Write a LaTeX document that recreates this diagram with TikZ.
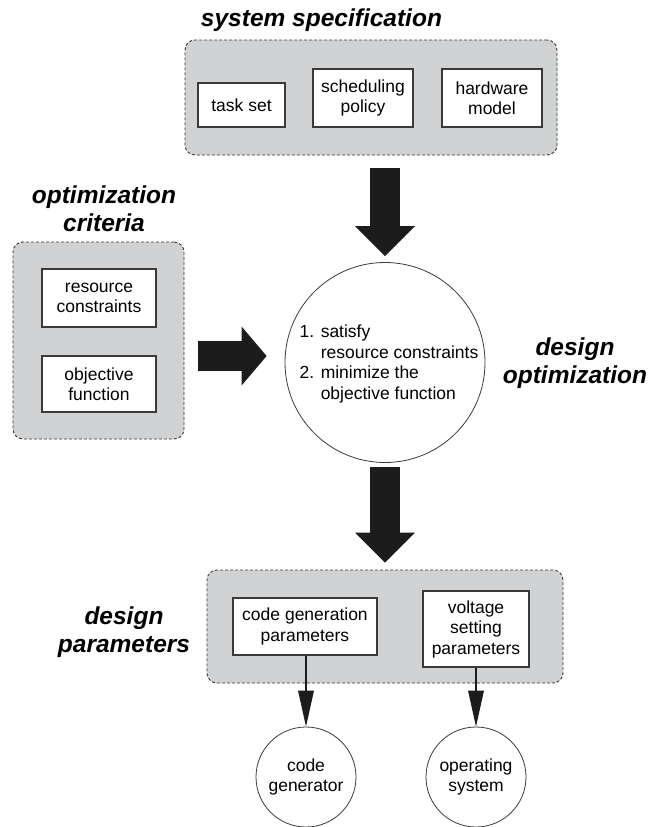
\documentclass[tikz,border=0pt]{standalone}
\usepackage{fontspec}
\setmainfont{Liberation Sans}
\usetikzlibrary{arrows.meta,calc}
\definecolor{panel}{HTML}{D1D2D4}
\definecolor{edge}{HTML}{3A3A3A}
\definecolor{ink}{HTML}{1C1C1C}
\begin{document}
\begin{tikzpicture}[x=1pt,y=-1pt,
  container/.style={draw=edge, dash pattern=on 3pt off 2pt, fill=panel, rounded corners=10pt, line width=0.9pt, inner sep=0pt},
  item/.style={draw=edge, fill=white, line width=1.1pt, align=center, inner sep=0pt, font=\fontsize{17.5}{20.5}\selectfont},
  title/.style={font=\fontsize{24.5}{28}\selectfont\bfseries\itshape, align=center, inner sep=0pt},
  roundnode/.style={circle, draw=edge, line width=0.8pt, fill=white, inner sep=0pt, align=center, font=\fontsize{17.5}{20.5}\selectfont},
  blockarr/.style={line width=30pt, draw=ink, -{Triangle[length=30pt,width=60pt,line width=0pt]}},
  sidearr/.style={line width=30pt, draw=ink, -{Triangle[length=25pt,width=59pt,line width=0pt]}},
  thinarr/.style={line width=2.5pt, draw=ink, -{Triangle[length=36pt,width=16pt,line width=0pt]}}
]
\useasboundingbox (0,0) rectangle (648,827);

% system specification
\node[container, minimum width=372pt, minimum height=115pt] (sys) at (371,97.5) {};
\node[title] (systitle) at (321.5,20) {system specification};
\node[item, minimum width=87pt, minimum height=44pt] (task) at (241.5,105) {task set};
\node[item, minimum width=100pt, minimum height=58pt] (sched) at (363,98) {scheduling\\policy};
\node[item, minimum width=100pt, minimum height=58pt] (hw) at (492,98) {hardware\\model};

% optimization criteria
\node[container, minimum width=171pt, minimum height=197pt] (crit) at (98.5,340.5) {};
\node[title] (crittitle) at (104,209) {optimization\\criteria};
\node[item, minimum width=114pt, minimum height=58pt] (rc) at (99,298) {resource\\constraints};
\node[item, minimum width=114pt, minimum height=56pt] (of) at (99,384) {objective\\function};

% design optimization
\node[circle, draw=edge, line width=0.8pt, minimum size=200pt, inner sep=0pt] (opt) at (385,362.5) {};
\node[align=left, inner sep=0pt, font=\fontsize{17.5}{20.5}\selectfont] (opttext) at (389,364)
  {1. satisfy\\\phantom{1. }resource constraints\\2. minimize the\\\phantom{2. }objective function};
\node[title] (opttitle) at (575,363.5) {design\\optimization};

% design parameters
\node[container, minimum width=356pt, minimum height=113pt] (par) at (385,626.5) {};
\node[title] (partitle) at (124,632) {design\\parameters};
\node[item, minimum width=144pt, minimum height=57pt] (cg) at (305,626.5) {code generation\\parameters};
\node[item, minimum width=106pt, minimum height=76pt] (vs) at (476,629) {voltage\\setting\\parameters};

\node[roundnode, minimum size=100pt] (cgen) at (306,777) {code\\generator};
\node[roundnode, minimum size=100pt] (os) at (476,777) {operating\\system};

% connectors
\coordinate (la) at (184,356);
\draw[blockarr, shorten <=13pt, shorten >=6pt] (opt.north |- sys.south) -- (opt.north);
\draw[sidearr, shorten <=14pt, shorten >=18pt] (la) -- (opt.west |- la);
\draw[blockarr, shorten <=4.5pt, shorten >=7pt] (opt.south) -- (opt.south |- par.north);
\draw[thinarr] (cgen.north |- cg.south) -- (cgen.north);
\draw[thinarr] (os.north |- vs.south) -- (os.north);
\end{tikzpicture}
\end{document}
